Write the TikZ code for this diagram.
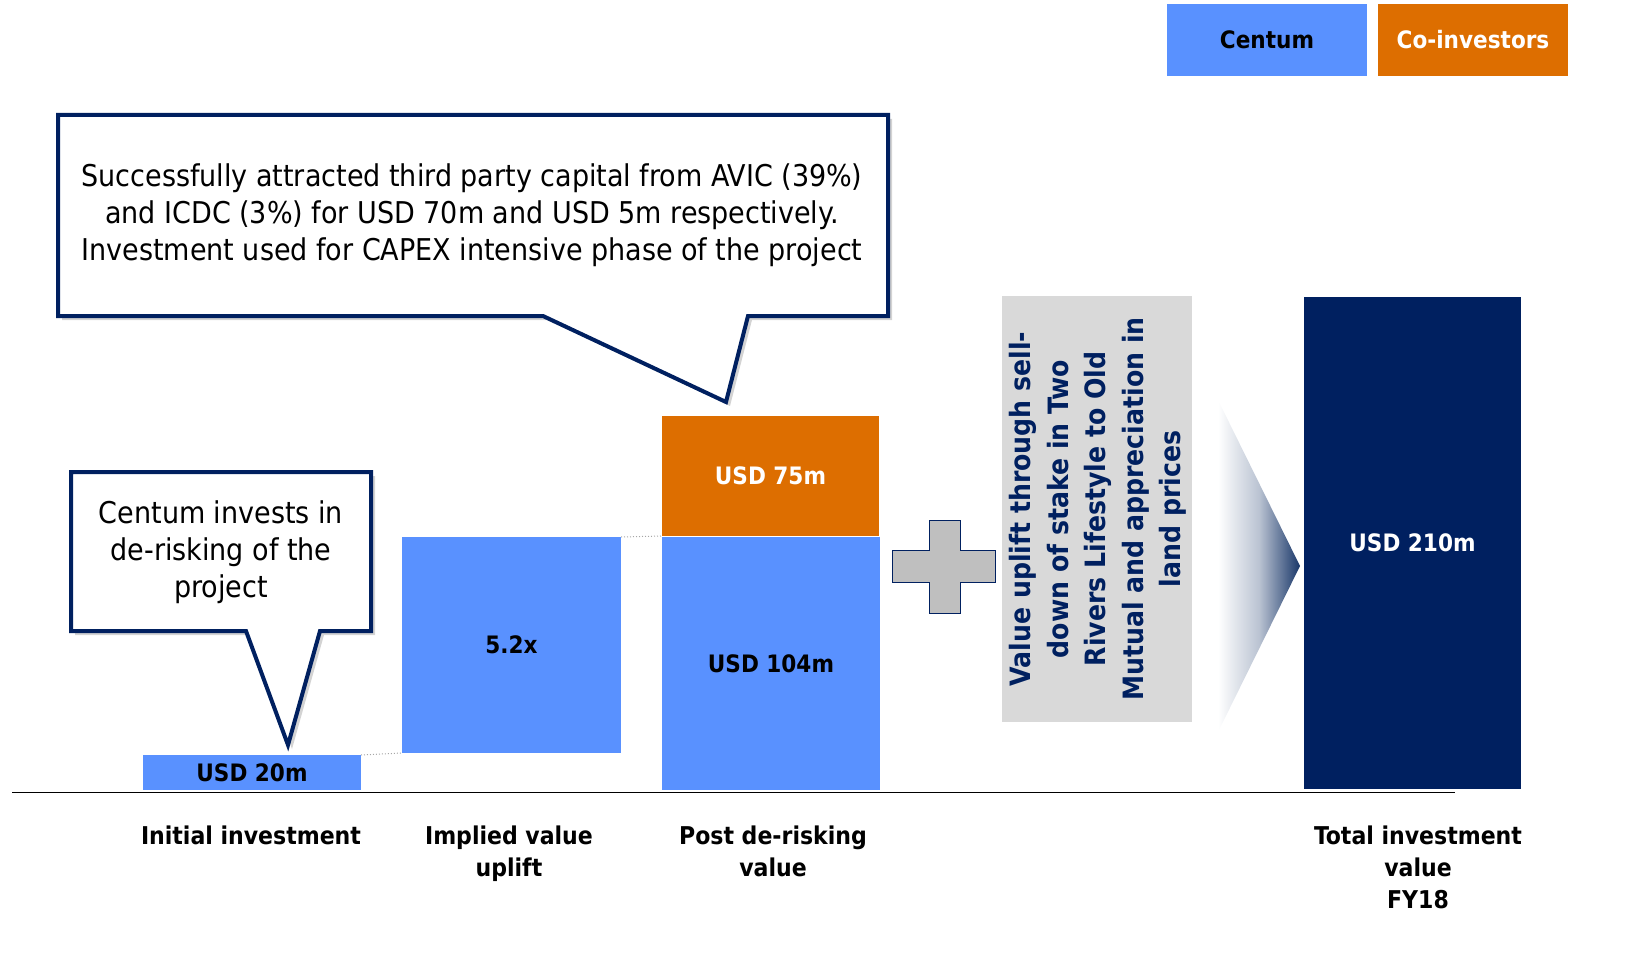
\documentclass[tikz,border=0pt]{standalone}
\usepackage{fontspec}
\setmainfont{DejaVu Sans Condensed}
\usetikzlibrary{shadows}
\definecolor{cblue}{RGB}{89,145,255}
\definecolor{corange}{RGB}{221,110,0}
\definecolor{cnavy}{RGB}{0,32,96}
\definecolor{cgraybox}{RGB}{217,217,217}
\definecolor{cplus}{RGB}{191,191,191}
\definecolor{carrow}{RGB}{25,55,105}
\tikzset{
  bar/.style={draw=none, inner sep=0pt, outer sep=0pt, font=\bfseries\fontsize{24}{28}\selectfont},
  callout/.style={draw=cnavy, line width=4pt, fill=white, line join=miter,
    drop shadow={opacity=0.35, shadow xshift=4pt, shadow yshift=-4pt}},
  calltext/.style={align=center, font=\fontsize{30}{37}\selectfont},
  axislabel/.style={anchor=north, align=center, font=\bfseries\fontsize{24.5}{32}\selectfont},
  joinline/.style={draw=gray!70, dotted, line width=1pt},
}
\begin{document}
\begin{tikzpicture}[x=1pt,y=-1pt]
\useasboundingbox (0,0) rectangle (1638,955);
% legend
\node[bar, fill=cblue, minimum width=200pt, minimum height=72pt] (legc) at (1267,40) {Centum};
\node[bar, fill=corange, text=white, minimum width=190pt, minimum height=72pt] (lego) at (1473,40) {Co-investors};
% baseline
\coordinate (axl) at (12,792);
\coordinate (axr) at (1455,792);
\draw[line width=1pt] (axl) -- (axr);
% bars
\node[bar, fill=cblue, minimum width=218pt, minimum height=35pt] (b1) at (252,772.5) {USD 20m};
\node[bar, fill=cblue, minimum width=219pt, minimum height=216pt] (b2) at (511.5,645) {5.2x};
\node[bar, fill=cblue, minimum width=218pt, minimum height=253pt] (b3) at (771,663.5) {USD 104m};
\node[bar, fill=corange, text=white, minimum width=217pt, minimum height=120pt] (b4) at (770.5,476) {USD 75m};
\node[bar, fill=cnavy, text=white, minimum width=217pt, minimum height=492pt] (b5) at (1412.5,543) {USD 210m};
\draw[joinline] (b1.north east) -- (b2.south west);
\draw[joinline] (b2.north east) -- (b4.south west);
% callouts
\draw[callout] (58,115) -- (888,115) -- (888,316) -- (748,316) -- (726,402) -- (543,316) -- (58,316) -- cycle;
\node[calltext] (t1) at (472,215) {Successfully attracted third party capital from AVIC (39\%)\\and ICDC (3\%) for USD 70m and USD 5m respectively.\\Investment used for CAPEX intensive phase of the project};
\draw[callout] (71,472) -- (371,472) -- (371,631) -- (320,631) -- (288,745) -- (246,631) -- (71,631) -- cycle;
\node[calltext] (t2) at (221,552) {Centum invests in\\de-risking of the\\project};
% plus sign
\draw[fill=cplus, draw=cnavy, line width=1pt] (892,550) -- (929,550) -- (929,520) -- (960,520) -- (960,550) -- (995,550) -- (995,582) -- (960,582) -- (960,613) -- (929,613) -- (929,582) -- (892,582) -- cycle;
% grey text box
\node[fill=cgraybox, minimum width=190pt, minimum height=426pt, inner sep=0pt] (gbox) at (1097,509) {};
\node[rotate=90, align=center, text=cnavy, font=\bfseries\fontsize{28}{37.5}\selectfont] (gtext) at (1098,509) {Value uplift through sell-\\down of stake in Two\\Rivers Lifestyle to Old\\Mutual and appreciation in\\land prices};
% gradient chevron
\shade[left color=white, right color=carrow, middle color=white!70!carrow] (1218,400) -- (1300,566) -- (1218,732) -- cycle;
% axis labels
\node[axislabel] (l1) at (251,822) {Initial investment};
\node[axislabel] (l2) at (509,822) {Implied value\\uplift};
\node[axislabel] (l3) at (773,822) {Post de-risking\\value};
\node[axislabel] (l4) at (1418,822) {Total investment\\value\\FY18};
\end{tikzpicture}
\end{document}
